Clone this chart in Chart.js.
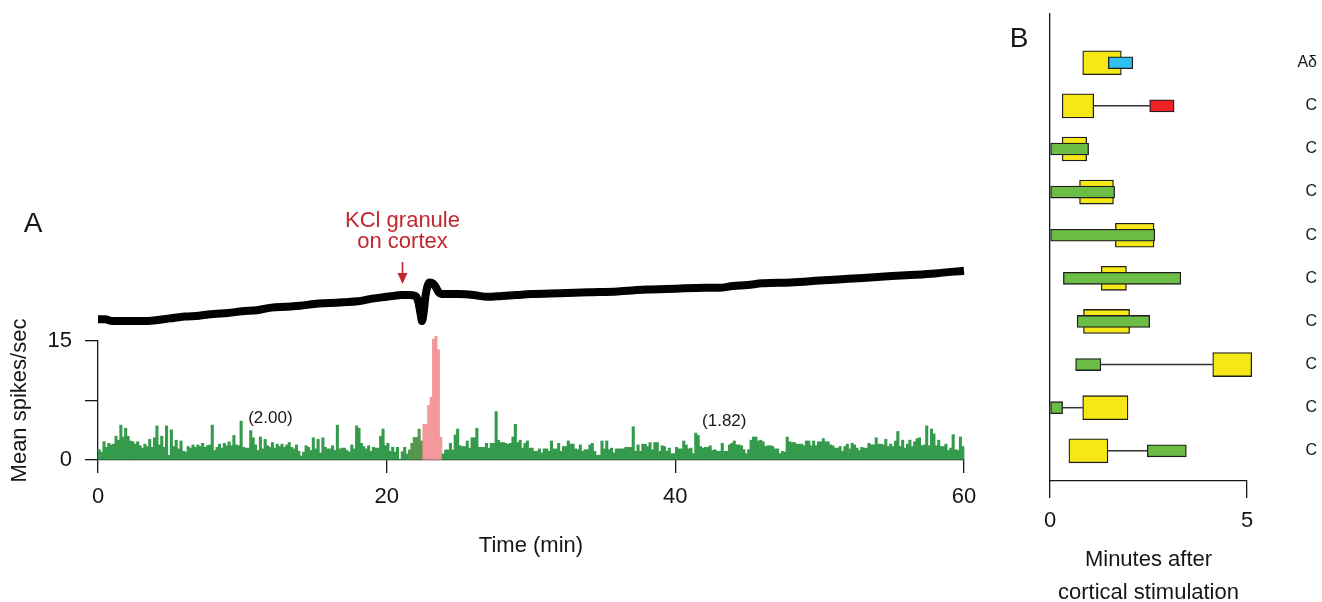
<!DOCTYPE html>
<html>
<head>
<meta charset="utf-8">
<title>Cortical KCl response</title>
<script src="https://cdn.jsdelivr.net/npm/chart.js@4.4.1/dist/chart.umd.min.js"></script>
<style>
  html, body { margin: 0; padding: 0; background: #fff; overflow: hidden; }
  #wrap { position: relative; width: 1322px; height: 602px; overflow: hidden; }
  canvas { position: absolute; }
  #histCanvas { left: 0; top: 0; }
  #traceCanvas { left: 0; top: 190px; }
  #latencyCanvas { left: 1000px; top: 0; }
</style>
</head>
<body>
<div id="wrap">
  <canvas id="histCanvas" width="1000" height="602"></canvas>
  <canvas id="traceCanvas" width="1000" height="160"></canvas>
  <canvas id="latencyCanvas" width="322" height="620"></canvas>
</div>
<script>
// ---- Panel A: firing rate, 10-s bins over 60 min ----
const BIN_MIN = 1 / 6;
const spikeRate = [
  1.3, 1.0, 2.3, 1.6, 2.1, 1.9,
  2.0, 3.0, 2.5, 4.4, 2.9, 4.0,
  3.0, 2.4, 2.3, 2.0, 2.3, 1.8,
  1.5, 2.0, 1.7, 2.6, 1.6, 2.8,
  4.3, 1.9, 3.0, 1.6, 4.3, 0.6,
  3.8, 1.7, 2.5, 1.4, 2.4, 1.1,
  1.0, 1.7, 1.5, 1.9, 1.6, 1.9,
  1.7, 2.1, 1.6, 1.8, 1.9, 4.4,
  1.2, 1.6, 2.0, 1.5, 2.1, 1.8,
  2.3, 1.8, 3.1, 1.9, 1.8, 4.9,
  1.6, 1.5, 1.5, 3.7, 2.8, 1.9,
  1.2, 2.9, 1.4, 2.6, 1.8, 1.6,
  2.2, 1.5, 2.0, 1.7, 2.0, 1.6,
  1.9, 2.2, 1.6, 1.4, 1.9, 1.1,
  0.5, 1.0, 1.8, 1.6, 1.2, 2.8,
  1.4, 2.6, 0.9, 2.8, 1.6, 1.4,
  1.4, 1.8, 1.2, 4.4, 1.4, 1.5,
  1.5, 1.2, 1.0, 1.9, 1.4, 4.3,
  4.0, 2.1, 1.7, 1.4, 1.8, 1.1,
  1.6, 1.5, 1.5, 3.0, 3.9, 1.8,
  2.1, 1.1, 1.6, 1.0, 1.6, 0.1,
  1.05, 1.6, 0.76, 1.26, 2.1, 2.86,
  2.86, 3.9, 2.4, 4.5, 4.5, 6.9,
  7.9, 15.25, 15.6, 13.9, 2.86, 0.76,
  1.26, 1.26, 2.1, 1.26, 3.15, 3.9,
  1.8, 1.7, 1.7, 2.4, 1.5, 2.8,
  2.8, 4.0, 1.6, 1.6, 1.6, 2.1,
  1.5, 2.1, 2.1, 6.1, 2.5, 2.2,
  2.2, 2.1, 2.0, 2.1, 2.9, 4.5,
  2.2, 2.5, 1.5, 2.1, 2.4, 1.5,
  1.5, 1.1, 1.1, 1.4, 0.9, 1.4,
  1.4, 1.1, 2.4, 1.4, 1.4, 2.1,
  1.1, 1.7, 1.7, 2.4, 2.0, 2.0,
  1.4, 1.3, 1.9, 1.1, 1.3, 1.3,
  1.9, 2.1, 1.1, 0.6, 0.6, 2.4,
  1.4, 2.4, 1.3, 1.5, 0.9, 1.4,
  1.4, 1.4, 1.4, 1.6, 1.6, 1.6,
  4.2, 1.1, 1.9, 1.1, 2.0, 2.0,
  1.7, 2.2, 1.3, 2.2, 2.2, 1.1,
  1.8, 1.7, 1.1, 1.5, 0.8, 0.8,
  1.6, 1.4, 1.4, 2.4, 1.9, 1.4,
  1.5, 0.8, 3.4, 3.1, 1.7, 1.5,
  1.6, 1.6, 1.8, 1.2, 1.3, 1.1,
  1.1, 2.1, 1.1, 1.1, 1.9, 2.1,
  2.4, 1.9, 1.9, 1.8, 1.3, 0.8,
  1.3, 2.5, 2.9, 2.9, 2.4, 2.5,
  2.3, 1.7, 1.8, 1.8, 1.7, 1.4,
  1.4, 0.8, 1.1, 1.0, 2.9, 2.3,
  2.2, 2.2, 2.0, 2.0, 2.0, 1.8,
  2.4, 2.4, 1.8, 2.4, 1.8, 2.3,
  2.3, 2.7, 2.3, 2.3, 1.9, 1.8,
  1.5, 1.5, 1.7, 1.1, 1.7, 2.0,
  1.4, 2.1, 1.9, 1.5, 1.2, 1.6,
  1.5, 1.5, 2.1, 1.9, 1.9, 2.8,
  2.0, 2.0, 1.9, 2.6, 1.7, 2.0,
  1.7, 2.4, 3.6, 1.7, 2.5, 1.5,
  2.0, 2.5, 1.7, 2.3, 2.7, 2.8,
  1.8, 1.9, 4.3, 1.8, 3.9, 3.3,
  1.8, 2.5, 1.7, 1.7, 2.0, 1.2,
  1.5, 3.2, 1.3, 1.2, 2.9, 1.7
];
const responseWindow = [22.5, 23.84];   // min, pink bins
const overlapWindow = [21.5, 22.5];     // min, shaded bins before the burst
const timeTicks = [0, 20, 40, 60];
const rateTicks = [0, 7.5, 15];
const rateTickLabels = ['0', '', '15'];
const meanRates = [2.00, 1.82];
const meanLabelTimes = [11.94, 43.39];
const meanLabelLevels = [4.61, 4.34];
const kclTime = 21.07;

// ---- Panel A: DC trace above the histogram ----
const traceTime = [0, 0.5, 1, 1.5, 2, 3, 4, 5, 6, 7, 8, 9, 10, 11, 12, 13, 14, 15, 16, 17, 18, 19, 20,
  20.5, 21, 21.5, 22, 22.2, 22.35, 22.45, 22.55, 22.7, 22.85, 23, 23.2, 23.4, 23.6, 23.8, 24,
  25, 26, 27, 28, 29, 30, 32, 34, 36, 38, 40, 42, 43, 44, 45, 46, 48, 50, 52, 54, 56, 58, 60];
const traceLevel = [23, 23, 21, 21, 21, 21, 22, 24, 26, 27, 29, 30, 32, 33, 36, 37, 38, 40, 41, 42, 43, 46, 48,
  49, 50, 50, 49, 42, 29, 21, 29, 50, 61, 64, 63, 59, 53, 51, 51,
  51, 50, 48, 49, 50, 51, 52, 53, 54, 56, 57, 58, 58, 60, 61, 63, 64, 66, 68, 70, 72, 74, 77];

// ---- Panel B: response windows per unit (minutes after stimulation) ----
const rowLabels = ['Aδ', 'C', 'C', 'C', 'C', 'C', 'C', 'C', 'C', 'C'];
const yellowSpans = [[0.83, 1.81], [0.31, 1.11], [0.31, 0.93], [0.75, 1.61], [1.66, 2.64],
  [1.30, 1.94], [0.85, 2.02], [4.13, 5.12], [0.83, 1.98], [0.48, 1.47]];
const greenSpans = [null, null, [0, 0.98], [0, 1.64], [0, 2.66],
  [0.34, 3.32], [0.69, 2.53], [0.65, 1.29], [0, 0.32], [2.47, 3.46]];
const blueSpans = [[1.48, 2.10], null, null, null, null, null, null, null, null, null];
const redSpans = [null, [2.53, 3.15], null, null, null, null, null, null, null, null];
const minuteTicks = [0, 5];

const FONT = '"Liberation Sans", Arial, Helvetica, sans-serif';
const INK = '#161616';
Chart.defaults.font.family = FONT;
Chart.defaults.color = INK;

const histAnnotations = {
  id: 'histAnnotations',
  afterDraw(chart) {
    const { ctx, scales: { x, y } } = chart;
    ctx.save();
    ctx.fillStyle = INK;
    ctx.textAlign = 'center';
    ctx.textBaseline = 'alphabetic';
    ctx.font = '28px ' + FONT;
    ctx.fillText('A', 33, 232);

    ctx.font = '17px ' + FONT;
    meanRates.forEach((r, i) => {
      ctx.fillText('(' + r.toFixed(2) + ')', x.getPixelForValue(meanLabelTimes[i]), y.getPixelForValue(meanLabelLevels[i]));
    });

    // KCl application marker
    const ax = Math.round(x.getPixelForValue(kclTime)) + 0.5;
    ctx.fillStyle = '#c1272d';
    ctx.strokeStyle = '#c1272d';
    ctx.font = '22px ' + FONT;
    ctx.fillText('KCl granule', ax, 227);
    ctx.fillText('on cortex', ax, 248);
    ctx.lineWidth = 1.6;
    ctx.beginPath();
    ctx.moveTo(ax, 262);
    ctx.lineTo(ax, 276);
    ctx.stroke();
    ctx.beginPath();
    ctx.moveTo(ax - 5, 273);
    ctx.lineTo(ax + 5, 273);
    ctx.lineTo(ax, 284);
    ctx.closePath();
    ctx.fill();
    ctx.restore();
  }
};

function binColor(ctx) {
  const t = (ctx.dataIndex + 0.5) * BIN_MIN;
  if (t >= responseWindow[0] && t < responseWindow[1]) return '#f4999b';
  if (t >= overlapWindow[0] && t < overlapWindow[1]) return '#56964f';
  return '#349a4c';
}

new Chart(document.getElementById('histCanvas'), {
  type: 'bar',
  data: {
    datasets: [{
      data: spikeRate.map((v, i) => ({ x: (i + 0.5) * BIN_MIN, y: v })),
      backgroundColor: binColor,
      borderWidth: 0,
      barPercentage: 1,
      categoryPercentage: 1,
      clip: false
    }]
  },
  options: {
    responsive: false,
    animation: false,
    layout: { padding: { left: 0, right: 36, top: 341, bottom: 0 } },
    plugins: { legend: { display: false }, tooltip: { enabled: false } },
    scales: {
      x: {
        type: 'linear', min: 0, max: 60, offset: false,
        afterFit: s => { s.height = 142; },
        afterBuildTicks: s => { s.ticks = timeTicks.map(v => ({ value: v })); },
        grid: { drawOnChartArea: false, offset: false, tickLength: 13, color: INK, lineWidth: 1.3 },
        border: { color: INK, width: 1.3 },
        ticks: { padding: 10.5, maxRotation: 0, font: { size: 22 } },
        title: { display: true, text: 'Time (min)', font: { size: 22 }, padding: { top: 0, bottom: 43 } }
      },
      y: {
        min: 0, max: 15,
        afterFit: s => { s.width = 98; },
        afterBuildTicks: s => { s.ticks = rateTicks.map(v => ({ value: v })); },
        grid: { drawOnChartArea: false, tickLength: 13, color: INK, lineWidth: 1.3 },
        border: { color: INK, width: 1.3 },
        ticks: { padding: 13, font: { size: 22 }, callback: v => rateTickLabels[rateTicks.indexOf(v)] },
        title: { display: true, text: 'Mean spikes/sec', font: { size: 22 }, padding: { top: 7, bottom: 0 } }
      }
    }
  },
  plugins: [histAnnotations]
});

new Chart(document.getElementById('traceCanvas'), {
  type: 'line',
  data: {
    datasets: [{
      data: traceTime.map((t, i) => ({ x: t, y: traceLevel[i] })),
      borderColor: '#000',
      borderWidth: 8,
      pointRadius: 0,
      cubicInterpolationMode: 'monotone',
      borderCapStyle: 'butt',
      borderJoinStyle: 'round',
      clip: false
    }]
  },
  options: {
    responsive: false,
    animation: false,
    layout: { padding: { left: 98, right: 36, top: 60, bottom: 10 } },
    plugins: { legend: { display: false }, tooltip: { enabled: false } },
    scales: {
      x: { type: 'linear', display: false, min: 0, max: 60 },
      y: { display: false, min: 0, max: 100 }
    }
  }
});

// ---- Panel B chart ----
function spanData(spans) {
  return spans.map((s, i) => (s ? { x: s, y: i + 1 } : null)).filter(Boolean);
}

// thin connectors between separated windows of the same unit
const linkDatasets = [];
rowLabels.forEach((_, i) => {
  const spans = [yellowSpans[i], greenSpans[i], blueSpans[i], redSpans[i]].filter(Boolean)
    .sort((a, b) => a[0] - b[0]);
  for (let k = 1; k < spans.length; k++) {
    if (spans[k][0] > spans[k - 1][1]) {
      linkDatasets.push({
        type: 'line',
        data: [{ x: spans[k - 1][1], y: i + 1 }, { x: spans[k][0], y: i + 1 }],
        borderColor: '#333',
        borderWidth: 1.5,
        pointRadius: 0,
        order: 10,
        clip: false
      });
    }
  }
});

function boxDataset(spans, color, thickness, order) {
  return {
    type: 'bar',
    data: spanData(spans),
    backgroundColor: color,
    borderColor: '#1e1e1e',
    borderWidth: 1.3,
    borderSkipped: false,
    barThickness: thickness,
    grouped: false,
    order: order,
    clip: false
  };
}

const panelBLabel = {
  id: 'panelBLabel',
  afterDraw(chart) {
    const { ctx } = chart;
    ctx.save();
    ctx.fillStyle = INK;
    ctx.font = '28px ' + FONT;
    ctx.textAlign = 'center';
    ctx.textBaseline = 'alphabetic';
    ctx.fillText('B', 19, 47);
    ctx.restore();
  }
};

const rowMin = -0.13, rowMax = 10.7;

new Chart(document.getElementById('latencyCanvas'), {
  type: 'bar',
  data: {
    datasets: [
      ...linkDatasets,
      boxDataset(yellowSpans, '#f5e816', 24, 5),
      boxDataset(greenSpans, '#6bbd45', 12, 1),
      boxDataset(blueSpans, '#2fc1ef', 12, 1),
      boxDataset(redSpans, '#ee2127', 12, 1)
    ]
  },
  options: {
    indexAxis: 'y',
    responsive: false,
    animation: false,
    layout: { padding: { left: 0, right: 5, top: 14, bottom: 0 } },
    plugins: { legend: { display: false }, tooltip: { enabled: false } },
    scales: {
      x: {
        type: 'linear', min: 0, max: 5, offset: false,
        afterFit: s => { s.height = 620 - 481; },
        afterBuildTicks: s => { s.ticks = minuteTicks.map(v => ({ value: v })); },
        grid: { drawOnChartArea: false, offset: false, tickLength: 17, color: INK, lineWidth: 1.3 },
        border: { color: INK, width: 1.3 },
        ticks: { padding: 9.5, maxRotation: 0, font: { size: 22 } },
        title: {
          display: true, text: ['Minutes after', 'cortical stimulation'],
          font: { size: 22, lineHeight: 1.518 }, padding: { top: 0, bottom: 10 }
        }
      },
      y: {
        type: 'linear', position: 'left', reverse: true, min: rowMin, max: rowMax, offset: false,
        afterFit: s => { s.width = 50; },
        ticks: { display: false },
        grid: { display: false, drawTicks: false },
        border: { color: INK, width: 1.3 }
      },
      yR: {
        type: 'linear', position: 'right', reverse: true, min: rowMin, max: rowMax, offset: false,
        afterFit: s => { s.width = 70; },
        afterBuildTicks: s => { s.ticks = rowLabels.map((_, i) => ({ value: i + 1 })); },
        ticks: { padding: 0, crossAlign: 'far', font: { size: 16 }, callback: v => rowLabels[v - 1] },
        grid: { display: false, drawTicks: false },
        border: { display: false }
      }
    }
  },
  plugins: [panelBLabel]
});
</script>
</body>
</html>
